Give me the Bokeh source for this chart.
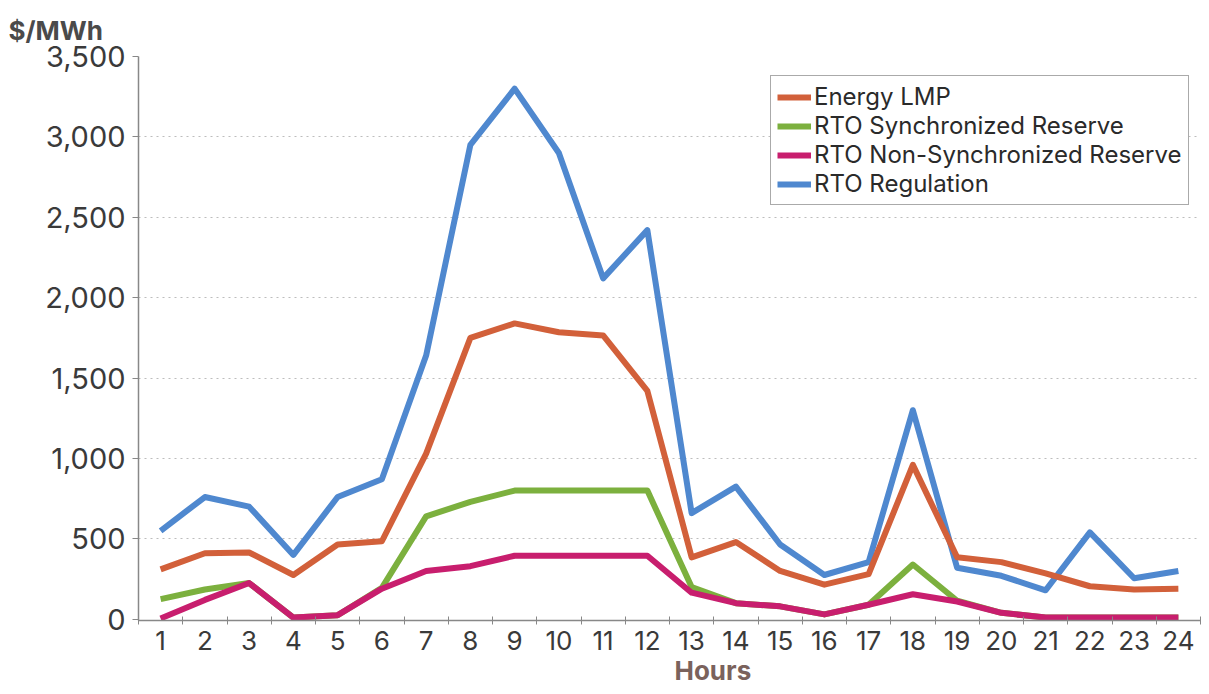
from bokeh.plotting import figure
from bokeh.models import (Range1d, FixedTicker, NumeralTickFormatter, Legend, LegendItem, Title)
from bokeh.embed import file_html
from bokeh.resources import INLINE

hours = list(range(1, 25))
energy_lmp = [310, 410, 415, 275, 465, 485, 1030, 1750, 1840, 1785, 1765, 1420,
              385, 480, 300, 215, 280, 960, 385, 355, 285, 205, 185, 190]
sync_reserve = [125, 185, 225, 10, 25, 195, 640, 730, 800, 800, 800, 800,
                200, 100, 80, 30, 90, 340, 115, 40, 10, 10, 10, 10]
non_sync_reserve = [5, 120, 225, 10, 25, 190, 300, 330, 395, 395, 395, 395,
                    165, 100, 80, 30, 90, 155, 110, 40, 10, 10, 10, 10]
regulation = [550, 760, 700, 400, 760, 870, 1640, 2950, 3300, 2900, 2120, 2420,
              660, 825, 465, 275, 355, 1300, 320, 270, 180, 540, 255, 300]
y_ticks = [0, 500, 1000, 1500, 2000, 2500, 3000, 3500]
series_names = ["Energy LMP", "RTO Synchronized Reserve",
                "RTO Non-Synchronized Reserve", "RTO Regulation"]
colors = ["#d2603a", "#7cb03e", "#c81e6e", "#4f88cf"]

FONT = "Inter"

p = figure(width=1209, height=694, output_backend="svg", toolbar_location=None,
           x_range=Range1d(0.5, 24.5), y_range=Range1d(-8, 3500),
           min_border_left=138, min_border_right=9, min_border_top=56,
           min_border_bottom=74)
p.outline_line_color = None
p.background_fill_color = "white"
p.border_fill_color = "white"

# axes
p.xaxis.ticker = FixedTicker(ticks=hours, minor_ticks=[h + 0.5 for h in range(0, 25)])
p.xaxis.major_tick_in = 0
p.xaxis.major_tick_out = 0
p.xaxis.minor_tick_in = 4
p.xaxis.minor_tick_out = 4
p.xaxis.minor_tick_line_color = "#888888"
p.xaxis.axis_line_color = "#888888"
p.xaxis.axis_line_width = 1.5
p.xaxis.major_label_text_font = FONT
p.xaxis.major_label_text_font_size = "26px"
p.xaxis.major_label_text_color = "#3a3a3a"
p.xaxis.major_label_standoff = 6

p.yaxis.ticker = FixedTicker(ticks=y_ticks)
p.yaxis.formatter = NumeralTickFormatter(format="0,0")
p.yaxis.minor_tick_line_color = None
p.yaxis.major_tick_in = 0
p.yaxis.major_tick_out = 6
p.yaxis.major_tick_line_color = "#888888"
p.yaxis.axis_line_color = "#888888"
p.yaxis.axis_line_width = 1.5
p.yaxis.major_label_text_font = FONT
p.yaxis.major_label_text_font_size = "29px"
p.yaxis.major_label_text_color = "#3a3a3a"
p.yaxis.major_label_standoff = 7

p.xgrid.grid_line_color = None
p.ygrid.ticker = FixedTicker(ticks=y_ticks[1:])
p.ygrid.grid_line_color = "#bdbdbd"
p.ygrid.grid_line_dash = "2 4"
p.ygrid.grid_line_width = 1.2

# lines (draw order: regulation, energy, sync, non-sync)
r_reg = p.line(hours, regulation, line_color=colors[3], line_width=6, line_join="round")
r_lmp = p.line(hours, energy_lmp, line_color=colors[0], line_width=6, line_join="round")
r_sync = p.line(hours, sync_reserve, line_color=colors[1], line_width=6, line_join="round")
r_nsync = p.line(hours, non_sync_reserve, line_color=colors[2], line_width=6, line_join="round")

legend = Legend(items=[LegendItem(label=series_names[0], renderers=[r_lmp]),
                       LegendItem(label=series_names[1], renderers=[r_sync]),
                       LegendItem(label=series_names[2], renderers=[r_nsync]),
                       LegendItem(label=series_names[3], renderers=[r_reg])],
                location=(632, 415))
legend.label_text_font = FONT
legend.label_text_font_size = "24px"
legend.label_text_color = "#2a2a2a"
legend.label_height = 24
legend.glyph_height = 24
legend.glyph_width = 34
legend.label_standoff = 3
legend.spacing = 0
legend.padding = 6
legend.margin = 0
legend.border_line_color = "#555555"
legend.border_line_width = 1.5
legend.background_fill_alpha = 1
p.add_layout(legend, "center")

# unit label and x axis title
p.add_layout(Title(text="$/MWh", align="left", offset=-130, standoff=21,
                   text_font=FONT, text_font_size="26px", text_font_style="bold",
                   text_color="#4a4a4a"), "above")
p.add_layout(Title(text="Hours", align="left", offset=536, standoff=0,
                   text_font=FONT, text_font_size="26px", text_font_style="bold",
                   text_color="#7a625c"), "below")

open("out.html", "w").write(file_html(p, INLINE))
